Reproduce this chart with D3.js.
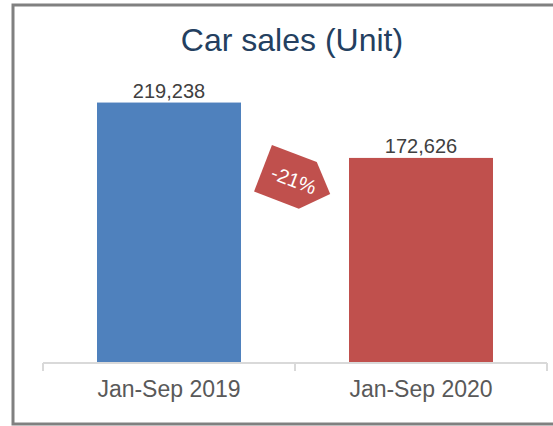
<!DOCTYPE html>
<html><head><meta charset="utf-8">
<script src="https://cdn.jsdelivr.net/npm/d3@7/dist/d3.min.js"></script>
<style>html,body{margin:0;padding:0;background:#fff;overflow:hidden;} svg{display:block;font-family:"Liberation Sans",Arial,sans-serif;}</style>
</head><body>
<script>
const categories = ["Jan-Sep 2019", "Jan-Sep 2020"];
const values = [219238, 172626];
const colors = ["#4F81BD", "#C0504D"];
const title = "Car sales (Unit)";

const W = 553, H = 426;
const svg = d3.select("body").append("svg").attr("width", W).attr("height", H);

// frame
svg.append("rect").attr("x", 13).attr("y", 5).attr("width", 560).attr("height", 419)
  .attr("fill", "#fff").attr("stroke", "#808080").attr("stroke-width", 3);

const x = d3.scaleBand().domain(categories).range([43, 547]).paddingInner(0.4286).paddingOuter(0.2143);
const y = d3.scaleLinear().domain([0, 250000]).range([363, 66]);

svg.append("text").attr("x", 292).attr("y", 51).attr("text-anchor", "middle")
  .attr("font-size", 32).attr("fill", "#243F60").text(title);

svg.selectAll("rect.bar").data(values).join("rect").attr("class", "bar")
  .attr("x", (d, i) => x(categories[i])).attr("width", x.bandwidth())
  .attr("y", d => y(d)).attr("height", d => y(0) - y(d))
  .attr("fill", (d, i) => colors[i]);

svg.selectAll("text.val").data(values).join("text").attr("class", "val")
  .attr("x", (d, i) => x(categories[i]) + x.bandwidth() / 2)
  .attr("y", d => y(d) - 5).attr("text-anchor", "middle")
  .attr("font-size", 20).attr("fill", "#404040")
  .text(d => d3.format(",")(d));

// axis
const axis = d3.axisBottom(x).tickSize(0).tickPadding(0);
const gx = svg.append("g").attr("transform", `translate(0,${y(0)})`).call(axis);
gx.select(".domain").remove();
gx.selectAll("text").remove();
gx.append("line").attr("x1", 43).attr("x2", 547).attr("stroke", "#D9D9D9").attr("stroke-width", 2);
const bounds = [43, x.step() + 43, 547];
gx.selectAll("line.tk").data(bounds).join("line").attr("class", "tk")
  .attr("x1", d => d).attr("x2", d => d).attr("y1", 0).attr("y2", 8)
  .attr("stroke", "#D9D9D9").attr("stroke-width", 2);
gx.selectAll("text.lbl").data(categories).join("text").attr("class", "lbl")
  .attr("x", d => x(d) + x.bandwidth() / 2).attr("y", 34)
  .attr("text-anchor", "middle").attr("font-size", 23).attr("fill", "#595959").text(d => d);

// change badge
const pct = Math.round((values[1] / values[0] - 1) * 100);
const bx = (x(categories[0]) + x.bandwidth() + x(categories[1])) / 2 - 4;
const badge = svg.append("g").attr("transform", `translate(${bx},179) rotate(21)`);
badge.append("path").attr("d", "M-30,-25L18,-25L42,0L18,25L-30,25Z").attr("fill", colors[1]);
badge.append("text").attr("x", 3).attr("y", 7).attr("text-anchor", "middle")
  .attr("font-size", 20).attr("fill", "#fff").text(pct + "%");
</script>
</body></html>
